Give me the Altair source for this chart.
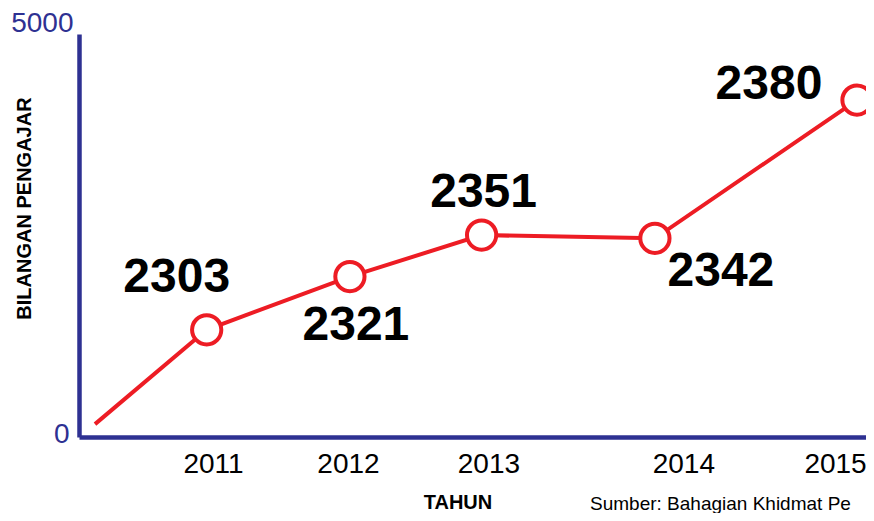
import altair as alt
import pandas as pd

# ---- data ----
years = [2011, 2012, 2013, 2014, 2015]
teachers = [2303, 2321, 2351, 2342, 2380]
# stylised plotted positions (in axis units)
plot_x = [2011.0, 2011.881, 2012.691, 2013.757, 2015.0]
plot_y = [1330, 1990, 2505, 2465, 4180]
start_x = [2010.313]
start_y = [160]
tick_pos = [2011.039, 2011.869, 2012.733, 2013.932, 2014.865]
y_ticks = [0, 5000]
note = "Sumber: Bahagian Khidmat Pe"

# ---- styling ----
BLUE = "#2e3192"
RED = "#ed1c24"
FONT = "Liberation Sans"
label_offsets = [(-30, -52), (6, 49), (2, -42), (66, 34), (-88, -15)]

pts = pd.DataFrame({"year": years, "value": teachers, "px": plot_x, "py": plot_y,
                    "idx": list(range(len(years)))})
line_df = pd.DataFrame({"px": start_x + plot_x, "py": start_y + plot_y,
                        "ord": list(range(len(plot_x) + 1))})

x_enc = alt.X("px:Q",
              scale=alt.Scale(domain=[2010.2146, 2015.0554], nice=False, zero=False),
              axis=alt.Axis(values=tick_pos, labelExpr="'' + round(datum.value)",
                            title="TAHUN", grid=False, ticks=False,
                            domainColor=BLUE, domainWidth=4.5,
                            labelFont=FONT, labelFontSize=28, labelColor="black",
                            labelPadding=13, labelOverlap=False, labelFlush=False,
                            labelBaseline="top",
                            titleFont=FONT, titleFontSize=20, titleFontWeight="bold",
                            titleColor="black", titleX=378.5, titleY=65,
                            titleAlign="center", titleBaseline="middle"))
y_enc = alt.Y("py:Q",
              scale=alt.Scale(domain=[0, 5000], nice=False),
              axis=alt.Axis(values=y_ticks, format="d", title="BILANGAN PENGAJAR", grid=False,
                            ticks=False, domainColor=BLUE, domainWidth=4.5,
                            labelFont=FONT, labelFontSize=28, labelColor=BLUE,
                            labelBaseline="alphabetic",
                            labelPadding={"condition": {"test": "datum.value == 0", "value": 10}, "value": 6},
                            labelOffset={"condition": {"test": "datum.value == 0", "value": 5}, "value": -3},
                            labelOverlap=False, labelFlush=False,
                            titleFont=FONT, titleFontSize=20, titleFontWeight="bold",
                            titleColor="black", titleX=-55, titleY=174,
                            titleAngle=270, titleAlign="center", titleBaseline="middle"))

line = alt.Chart(line_df).mark_line(color=RED, strokeWidth=4).encode(
    x=x_enc, y=y_enc, order="ord:Q")

circles = alt.Chart(pts).mark_point(shape="circle", filled=False, fill="white",
                                    fillOpacity=1, stroke=RED, strokeWidth=4,
                                    size=855, opacity=1).encode(x="px:Q", y="py:Q")

labels = []
for i, (dx, dy) in enumerate(label_offsets):
    labels.append(
        alt.Chart(pts).transform_filter(f"datum.idx == {i}").mark_text(
            font=FONT, fontSize=48, fontWeight="bold", color="black",
            align="center", baseline="middle", dx=dx, dy=dy
        ).encode(x="px:Q", y="py:Q", text="value:Q")
    )

note_layer = alt.Chart(pd.DataFrame({"t": [note]})).mark_text(
    font=FONT, fontSize=19, color="black", align="left", baseline="alphabetic"
).encode(x=alt.value(511), y=alt.value(476), text="t:N")

chart = alt.layer(line, circles, *labels, note_layer).properties(
    width=787, height=403,
    autosize=alt.AutoSizeParams(type="none"),
    padding={"left": 71, "top": 26, "right": 0, "bottom": 76},
    background="white",
).configure_view(stroke=None)

chart.save("out.html", embed_options={"renderer": "svg", "actions": False})
